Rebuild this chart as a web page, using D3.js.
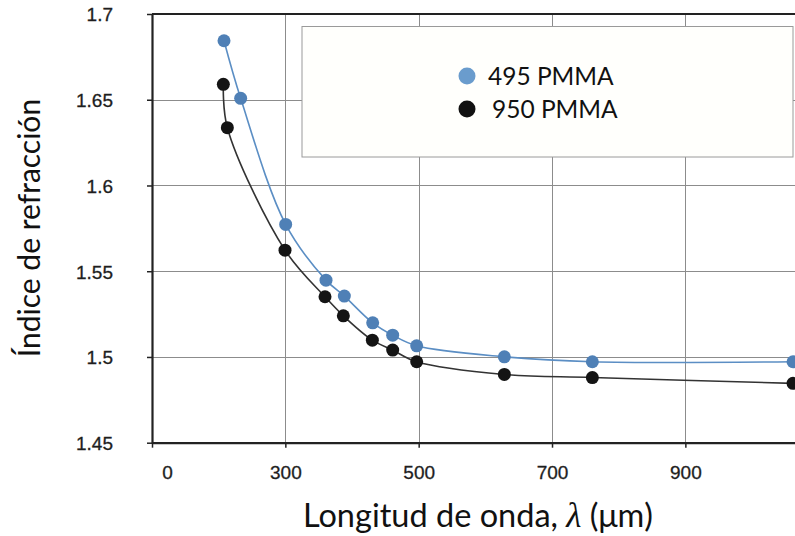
<!DOCTYPE html>
<html><head><meta charset="utf-8">
<script src="https://cdn.jsdelivr.net/npm/d3@7"></script>
<style>body{margin:0;background:#fff}svg{display:block}</style>
</head><body><svg id="c" width="795" height="536"></svg>
<script>
const seriesNames = ["495 PMMA", "950 PMMA"];
const wl495 = [208, 233, 300.5, 361, 388.5, 431, 461, 497, 628.5, 760.5, 1061.5];
const n495  = [1.6844, 1.6508, 1.5773, 1.5448, 1.5355, 1.5199, 1.5127, 1.5065, 1.5001, 1.4972, 1.4972];
const wl950 = [207, 213, 299.5, 359.5, 387, 430.5, 461, 497, 628.5, 760.5, 1061.5];
const n950  = [1.659, 1.6337, 1.5623, 1.5351, 1.524, 1.5098, 1.504, 1.4972, 1.4898, 1.488, 1.4846];
const xTickValues = [100, 300, 500, 700, 900];
const xTickLabels = ["0", "300", "500", "700", "900"];
const xGridValues = [300, 500, 700, 900, 1100];
const yTickValues = [1.45, 1.5, 1.55, 1.6, 1.65, 1.7];
const yTickLabels = ["1.45", "1.5", "1.55", "1.6", "1.65", "1.7"];
const yGridValues = [1.5, 1.55, 1.6, 1.65];

const svg = d3.select("#c");
const L = 152, T = 14, B = 442.7, R = 818.7;
const x = d3.scaleLinear().domain([100, 1100]).range([L, R]);
const y = d3.scaleLinear().domain([1.45, 1.7]).range([B, T]);

// gridlines
const grid = svg.append("g").attr("stroke", "#8c8c8c").attr("stroke-width", 1);
grid.selectAll("line.v").data(xGridValues).join("line")
  .attr("x1", d => Math.round(x(d)) + 0.5).attr("x2", d => Math.round(x(d)) + 0.5)
  .attr("y1", T).attr("y2", B);
grid.selectAll("line.h").data(yGridValues).join("line")
  .attr("y1", d => Math.round(y(d)) + 0.5).attr("y2", d => Math.round(y(d)) + 0.5)
  .attr("x1", L).attr("x2", R);

// top border
svg.append("line").attr("x1", L).attr("x2", R).attr("y1", y(1.7)).attr("y2", y(1.7))
  .attr("stroke", "#222").attr("stroke-width", 2.2);

// axes
const xAxis = d3.axisBottom(x).tickValues(xTickValues)
  .tickFormat((d, i) => xTickLabels[i]).tickSize(5).tickSizeOuter(0);
const gx = svg.append("g").attr("transform", `translate(0,${B})`).call(xAxis);
gx.select(".domain").attr("stroke", "#222").attr("stroke-width", 2.2);
gx.selectAll(".tick line").attr("stroke", "#222").attr("stroke-width", 1.5);
gx.selectAll(".tick text").attr("y", 36.5).attr("dy", 0)
  .attr("dx", (d, i) => i === 0 ? 15 : 0)
  .style("font-family", "'Liberation Sans', Arial, sans-serif").style("font-size", "19px")
  .attr("fill", "#1e1e1e").attr("stroke", "#1e1e1e").attr("stroke-width", 0.3);

const yAxis = d3.axisLeft(y).tickValues(yTickValues)
  .tickFormat((d, i) => yTickLabels[i]).tickSize(5).tickSizeOuter(0);
const gy = svg.append("g").attr("transform", `translate(${L},0)`).call(yAxis);
gy.select(".domain").attr("stroke", "#222").attr("stroke-width", 2.2);
gy.selectAll(".tick line").attr("stroke", "#222").attr("stroke-width", 1.5);
gy.selectAll(".tick text").attr("x", -39).attr("dy", "0.36em")
  .style("font-family", "'Liberation Sans', Arial, sans-serif").style("font-size", "19px")
  .attr("fill", "#1e1e1e").attr("stroke", "#1e1e1e").attr("stroke-width", 0.3);

// series
const series = [
  {name: seriesNames[0], xs: wl495, ys: n495, line: "#5b8ec4", dot: "#4f80b6", leg: "#6a9ccd"},
  {name: seriesNames[1], xs: wl950, ys: n950, line: "#333333", dot: "#141414", leg: "#111111"}
];
const lineGen = d3.line().x(d => x(d[0])).y(d => y(d[1])).curve(d3.curveCatmullRom.alpha(0.5));
series.forEach(s => {
  const pts = s.xs.map((v, i) => [v, s.ys[i]]);
  svg.append("path").datum(pts).attr("d", lineGen)
    .attr("fill", "none").attr("stroke", s.line).attr("stroke-width", 1.6);
  svg.append("g").selectAll("circle").data(pts).join("circle")
    .attr("cx", d => x(d[0])).attr("cy", d => y(d[1])).attr("r", 6.5)
    .attr("fill", s.dot);
});

// legend
svg.append("rect").attr("x", 302).attr("y", 26.5).attr("width", 491).attr("height", 130.5)
  .attr("fill", "#fffffc").attr("stroke", "#9a9a9a").attr("stroke-width", 1);
const lg = svg.append("g");
series.forEach((s, i) => {
  const cy = 76 + i * 33;
  lg.append("circle").attr("cx", 467).attr("cy", cy).attr("r", 8.5).attr("fill", s.leg);
  lg.append("text").attr("x", i === 0 ? 488 : 492).attr("y", cy + 9)
    .style("font-family", "Lato, 'Open Sans', sans-serif").style("font-size", "24.5px")
    .attr("fill", "#111").text(s.name);
});

// axis titles
const xt = svg.append("text").attr("x", 478).attr("y", 527).attr("text-anchor", "middle")
  .style("font-family", "Lato, 'Open Sans', sans-serif").style("font-size", "32.5px").attr("fill", "#111");
xt.append("tspan").text("Longitud de onda, ");
xt.append("tspan").style("font-family", "'Liberation Serif', 'DejaVu Serif', serif")
  .style("font-style", "italic").style("font-size", "35px").text("λ");
xt.append("tspan").text(" (μm)");

svg.append("text").attr("transform", "translate(40,228) rotate(-90)").attr("text-anchor", "middle")
  .style("font-family", "Lato, 'Open Sans', sans-serif").style("font-size", "30px").attr("fill", "#111")
  .text("Índice de refracción");
</script>
</body></html>
